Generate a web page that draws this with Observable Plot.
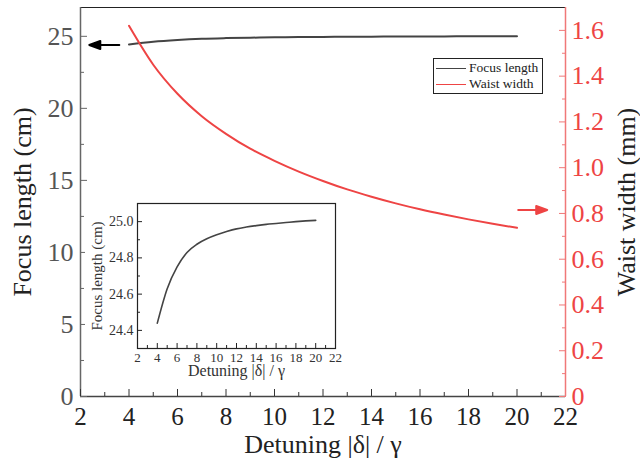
<!DOCTYPE html>
<html>
<head>
<meta charset="utf-8">
<script src="https://cdn.jsdelivr.net/npm/d3@7"></script>
<script src="https://cdn.jsdelivr.net/npm/@observablehq/plot@0.6"></script>
<style>
  html, body { margin: 0; padding: 0; background: #fff; }
  #wrap { position: relative; width: 640px; height: 465px; font-family: "Liberation Serif", serif; }
  #wrap svg { position: absolute; left: 0; top: 0; font-family: "Liberation Serif", serif !important; }
  #wrap svg text { font-family: "Liberation Serif", serif !important; }
  #legend { position: absolute; left: 433px; top: 58px; width: 108px; height: 34px; border: 1px solid #222; background: #fff; font-size: 13.5px; color: #222; }
  #legend .row { position: absolute; left: 2px; display: flex; align-items: center; white-space: nowrap; }
  #legend .sw { display: inline-block; width: 30px; height: 0; border-top: 1.6px solid; margin-right: 3px; }
</style>
</head>
<body>
<div id="wrap"></div>
<script>
// ---- data ----
const detuning = [4, 5, 6, 7, 8, 9, 10, 11, 12, 13, 14, 15, 16, 17, 18, 19, 20];
const focusLength = [24.44, 24.63, 24.75, 24.83, 24.875, 24.905, 24.927, 24.945, 24.96, 24.97, 24.978, 24.985, 24.99, 24.995, 25.0, 25.004, 25.007];
const waistWidth = [1.62, 1.45, 1.323, 1.225, 1.148, 1.083, 1.03, 0.983, 0.942, 0.905, 0.873, 0.844, 0.818, 0.795, 0.774, 0.755, 0.737];
const xMajor = [2, 4, 6, 8, 10, 12, 14, 16, 18, 20, 22];
const xMinor = [3, 5, 7, 9, 11, 13, 15, 17, 19, 21];
const leftMajor = [0, 5, 10, 15, 20, 25];
const leftMinor = [2.5, 7.5, 12.5, 17.5, 22.5];
const rightMajor = [0, 0.2, 0.4, 0.6, 0.8, 1.0, 1.2, 1.4, 1.6];
const rightMinor = [0.1, 0.3, 0.5, 0.7, 0.9, 1.1, 1.3, 1.5];
const insetYMajor = [24.4, 24.6, 24.8, 25.0];
const insetYMinor = [24.3, 24.5, 24.7, 24.9, 25.1];
const leftArrow = [{x: 3.6, y: 24.4}];
const rightArrow = [{x: 20.05, w: 0.815}];

const focusData = detuning.map((d, i) => ({d, f: focusLength[i]}));
const waistData = detuning.map((d, i) => ({d, w: waistWidth[i]}));

const FOCUS = "#444";
const RED = "#ee4444";
const font = "Liberation Serif";
const blank = () => "";

const arrowShape = {
  draw(ctx, l) {
    const h = 11, w = 4;
    ctx.moveTo(0, 0); ctx.lineTo(0, -l + h);
    ctx.moveTo(-w, -l + h); ctx.lineTo(0, -l); ctx.lineTo(w, -l + h); ctx.closePath();
  }
};

const common = {
  width: 640, height: 465,
  marginLeft: 80, marginRight: 75, marginTop: 7, marginBottom: 69,
  style: {fontFamily: font, background: "transparent", overflow: "visible"},
  x: {domain: [2, 22], axis: null}
};

const main = Plot.plot({
  ...common,
  y: {domain: [0, 27], axis: null},
  marks: [
    Plot.ruleY([27], {stroke: "#222", strokeWidth: 1.2}),
    Plot.ruleY([0], {stroke: "#444", strokeWidth: 1.5}),
    Plot.ruleX([2], {stroke: "#666", strokeWidth: 1.5}),
    Plot.axisX(xMajor, {tickSize: -7, tickFormat: blank, stroke: "#333", label: null}),
    Plot.axisX(xMinor, {tickSize: -4, tickFormat: blank, stroke: "#333", label: null}),
    Plot.axisX(xMajor, {tickSize: 0, tickPadding: 11, fontSize: 25, fill: "#222", label: null, tickFormat: d => String(d)}),
    Plot.axisY(leftMajor, {tickSize: -7, tickFormat: blank, stroke: "#666", label: null}),
    Plot.axisY(leftMinor, {tickSize: -4, tickFormat: blank, stroke: "#666", label: null}),
    Plot.axisY(leftMajor, {tickSize: 0, tickPadding: 7, fontSize: 26, fill: "#555", label: null, tickFormat: d => String(d)}),
    Plot.text(["Detuning |δ| / γ"], {frameAnchor: "bottom", dy: 56, fontSize: 26, fill: "#222", textAnchor: "middle", fontFamily: font}),
    Plot.text(["Focus length (cm)"], {frameAnchor: "left", dx: -58, rotate: -90, fontSize: 26, fill: "#222", textAnchor: "middle", fontFamily: font}),
    Plot.line(focusData, {x: "d", y: "f", stroke: FOCUS, strokeWidth: 2, curve: "monotone-x"}),
    Plot.vector(leftArrow, {x: "x", y: "y", length: 30, rotate: -90, anchor: "start", shape: arrowShape, stroke: "#000", fill: "#000", strokeWidth: 2})
  ]
});

const right = Plot.plot({
  ...common,
  y: {domain: [0, 1.7], axis: null},
  marks: [
    Plot.ruleX([22], {stroke: "#f07878", strokeWidth: 1.5}),
    Plot.axisY(rightMajor, {anchor: "right", tickSize: -7, tickFormat: blank, stroke: "#f07878", label: null}),
    Plot.axisY(rightMinor, {anchor: "right", tickSize: -4, tickFormat: blank, stroke: "#f07878", label: null}),
    Plot.axisY(rightMajor, {anchor: "right", tickSize: 0, tickPadding: 6, fontSize: 26, fill: RED, label: null, tickFormat: d => d === 0 ? "0" : d.toFixed(1)}),
    Plot.text(["Waist width (mm)"], {frameAnchor: "right", dx: 61, rotate: -90, fontSize: 26, fill: "#222", textAnchor: "middle", fontFamily: font}),
    Plot.line(waistData, {x: "d", y: "w", stroke: RED, strokeWidth: 2, curve: "monotone-x"}),
    Plot.vector(rightArrow, {x: "x", y: "w", length: 29, rotate: 90, anchor: "start", shape: arrowShape, stroke: RED, fill: RED, strokeWidth: 2})
  ]
});

const inset = Plot.plot({
  width: 260, height: 190,
  marginLeft: 52, marginRight: 10, marginTop: 8, marginBottom: 37,
  style: {fontFamily: font, background: "#fff", overflow: "visible"},
  x: {domain: [2, 22], axis: null},
  y: {domain: [24.3, 25.1], axis: null},
  marks: [
    Plot.frame({stroke: "#222", strokeWidth: 1.2}),
    Plot.axisX(xMajor, {tickSize: -5, tickFormat: blank, stroke: "#222", label: null}),
    Plot.axisX(xMinor, {tickSize: -3, tickFormat: blank, stroke: "#222", label: null}),
    Plot.axisX(xMajor, {tickSize: 0, tickPadding: 4, fontSize: 13, fill: "#333", label: null, tickFormat: d => String(d)}),
    Plot.axisY(insetYMajor, {tickSize: -5, tickFormat: blank, stroke: "#222", label: null}),
    Plot.axisY(insetYMinor, {tickSize: -3, tickFormat: blank, stroke: "#222", label: null}),
    Plot.axisY(insetYMajor, {tickSize: 0, tickPadding: 4, fontSize: 14, fill: "#333", label: null, tickFormat: d => d.toFixed(1)}),
    Plot.text(["Detuning |δ| / γ"], {frameAnchor: "bottom", dy: 27, fontSize: 16, fill: "#333", textAnchor: "middle", fontFamily: font}),
    Plot.text(["Focus length (cm)"], {frameAnchor: "left", dx: -40, rotate: -90, fontSize: 15, fill: "#333", textAnchor: "middle", fontFamily: font}),
    Plot.line(focusData, {x: "d", y: "f", stroke: FOCUS, strokeWidth: 1.6, curve: "monotone-x"})
  ]
});

const wrap = document.getElementById("wrap");
wrap.appendChild(main);
wrap.appendChild(right);
inset.style.left = "85px";
inset.style.top = "195px";
wrap.appendChild(inset);

const legend = document.createElement("div");
legend.id = "legend";
legend.innerHTML =
  `<div class="row" style="top:1px"><span class="sw" style="border-color:${FOCUS}"></span>Focus length</div>` +
  `<div class="row" style="top:17px"><span class="sw" style="border-color:${RED}"></span>Waist width</div>`;
wrap.appendChild(legend);
</script>
</body>
</html>
